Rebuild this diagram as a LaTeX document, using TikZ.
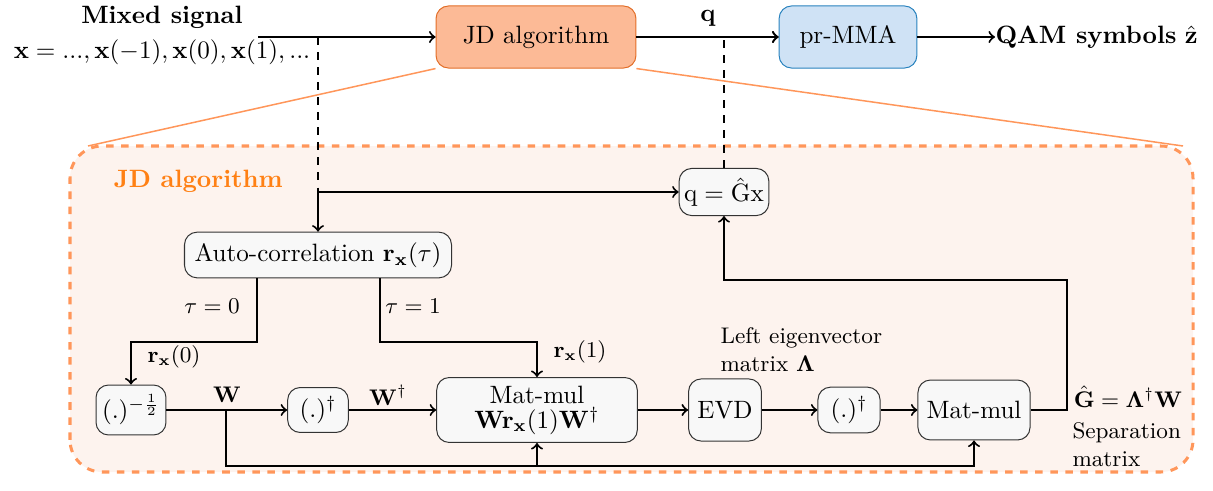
\documentclass[tikz,border=0pt]{standalone}
\usepackage{tikz}
\usetikzlibrary{positioning}

\definecolor{jdfill}{RGB}{252,186,150}
\definecolor{jdedge}{RGB}{226,110,40}
\definecolor{prfill}{RGB}{207,226,245}
\definecolor{predge}{RGB}{40,130,190}
\definecolor{framefill}{RGB}{253,243,238}
\definecolor{frameedge}{RGB}{255,150,90}
\definecolor{titleorange}{RGB}{255,128,20}
\definecolor{boxfill}{RGB}{248,248,248}

\begin{document}
\begin{tikzpicture}[x=0.014cm, y=0.014cm,
        block/.style={rectangle, rounded corners=5pt, draw=black!80, fill=boxfill, align=center, inner sep=2pt},
        lbl/.style={font=\small},
        conn/.style={thick},
        zoomline/.style={frameedge, semithick}]
        \useasboundingbox (0,0) rectangle (1213,490);

        % frame of the detailed view
        \draw[frameedge, fill=framefill, very thick, dashed, rounded corners=0.45cm] (70,18) rectangle (1193,344);
        \coordinate (fl) at (88,344);
        \coordinate (fr) at (1183,344);
        \node[anchor=west, text=titleorange, font=\bfseries] (title) at (105,309) {JD algorithm};

        % top level chain
        \node[rectangle, rounded corners=5pt, draw=jdedge, fill=jdfill, minimum width=2.8cm, minimum height=0.87cm] (jd) at (536,453) {JD algorithm};
        \node[rectangle, rounded corners=5pt, draw=predge, fill=prfill, minimum width=1.93cm, minimum height=0.87cm] (pr) at (848,453) {pr-MMA};
        \node[anchor=west, inner sep=0pt] (qam) at (995,453) {\textbf{QAM symbols} $\hat{\mathbf{z}}$};
        \node (mix) at (162,473) {\textbf{Mixed signal}};
        \node (xs) at (162,438) {$\mathbf{x}=...,\mathbf{x}(-1),\mathbf{x}(0),\mathbf{x}(1),...$};
        \node (ql) at (708,472) {$\mathbf{q}$};
        \coordinate (in) at (258,453);

        \draw[zoomline] (jd.south west) -- (fl);
        \draw[zoomline] (jd.south east) -- (fr);

        % blocks inside
        \node[block, minimum width=1.23cm, minimum height=0.66cm] (qg) at (724,298) {$\mathrm{q}=\hat{\mathrm{G}}\mathrm{x}$};
        \node[block, minimum width=3.74cm, minimum height=0.64cm] (ac) at (318,235) {Auto-correlation $\mathbf{r}_{\mathbf{x}}(\tau)$};
        \node[block, minimum width=0.98cm, minimum height=0.7cm] (pw) at (131,80) {$(.)^{-\frac{1}{2}}$};
        \node[block, minimum width=0.85cm, minimum height=0.63cm] (dg1) at (318,80) {$(.)^{\dagger}$};
        \node[block, minimum width=2.81cm, minimum height=0.91cm] (mm1) at (537,80) {Mat-mul\\[-2pt]$\mathbf{W}\mathbf{r}_{\mathbf{x}}(1)\mathbf{W}^{\dagger}$};
        \node[block, minimum width=1.02cm, minimum height=0.87cm] (evd) at (725,80) {EVD};
        \node[block, minimum width=0.87cm, minimum height=0.64cm] (dg2) at (849,80) {$(.)^{\dagger}$};
        \node[block, minimum width=1.57cm, minimum height=0.84cm] (mm2) at (974,80) {Mat-mul};

        % labels
        \node[lbl] (tau0) at (212,184) {$\tau=0$};
        \node[lbl] (tau1) at (413,184) {$\tau=1$};
        \node[lbl] (r0) at (174,133) {$\mathbf{r}_{\mathbf{x}}(0)$};
        \node[lbl] (r1) at (580,138) {$\mathbf{r}_{\mathbf{x}}(1)$};
        \node[lbl] (wl1) at (227,95) {$\mathbf{W}$};
        \node[lbl] (wl2) at (388,95) {$\mathbf{W}^{\dagger}$};
        \node[lbl, anchor=north west, align=left, inner sep=0pt] (lev) at (720,163) {Left eigenvector\\matrix $\mathbf{\Lambda}$};
        \node[lbl] (gl) at (1128,93) {$\hat{\mathbf{G}}=\mathbf{\Lambda}^{\dagger}\mathbf{W}$};
        \node[lbl, anchor=north west, align=left, inner sep=0pt] (sep) at (1072,68) {Separation\\matrix};

        \coordinate (t0) at (257,148);
        \coordinate (t1) at (380,148);
        \coordinate (wb) at (226,80);
        \coordinate (wd) at (226,24);
        \coordinate (gb) at (1067,210);

        % connections
        \draw[conn, ->] (in) -- (jd.west);
        \draw[conn, ->] (jd.east) -- (pr.west);
        \draw[conn, ->] (pr.east) -- (qam.west);
        \draw[conn, dashed] (in -| ac.north) -- (ac.north |- qg.west);
        \draw[conn, ->] (ac.north |- qg.west) -- (qg.west);
        \draw[conn, ->] (ac.north |- qg.west) -- (ac.north);
        \draw[conn, dashed, ->] (qg.north) |- (pr.west);
        \draw[conn, ->] (ac.south -| t0) -- (t0) -| (pw.north);
        \draw[conn, ->] (ac.south -| t1) -- (t1) -| (mm1.north);
        \draw[conn, ->] (pw.east) -- (dg1.west);
        \draw[conn, ->] (dg1.east) -- (mm1.west);
        \draw[conn, ->] (mm1.east) -- (evd.west);
        \draw[conn, ->] (evd.east) -- (dg2.west);
        \draw[conn, ->] (dg2.east) -- (mm2.west);
        \draw[conn, ->] (wb) -- (wd) -| (mm2.south);
        \draw[conn, ->] (wd -| mm1.south) -- (mm1.south);
        \draw[conn, ->] (mm2.east) -| (gb) -| (qg.south);
      \end{tikzpicture}
\end{document}
